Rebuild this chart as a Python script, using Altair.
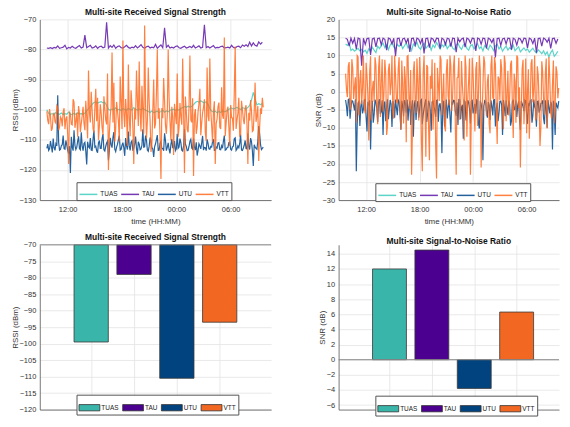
import altair as alt
import pandas as pd

SITES = ["TUAS", "TAU", "UTU", "VTT"]
LINE_COLORS = ["#40CDBF", "#5E17A8", "#00468C", "#FF6A1F"]
BAR_COLORS = ["#3AB5A9", "#4B0090", "#00437F", "#F26722"]
FONT = "Liberation Sans"

TIME_TICKS = ["12:00", "18:00", "00:00", "06:00"]
TIMES = pd.date_range("2021-01-01 09:42", periods=120, freq="12min")
TIMES_B = TIMES + pd.Timedelta(minutes=6)   # intermediate readings of the noisy series

# ---- RSSI (dBm) time series ----
TUAS_RSSI = [
    -100.0, -101.2, -101.5, -101.3, -101.6, -100.9, -101.4, -101.5, -101.1, -101.6,
    -101.3, -101.5, -100.8, -101.4, -101.6, -101.2, -101.5, -101.0, -101.4, -101.3,
    -101.5, -101.1, -100.4, -99.6, -98.9, -98.2, -97.6, -97.4, -97.8, -97.5,
    -97.3, -97.7, -97.5, -98.6, -99.8, -100.2, -99.7, -100.0, -99.4, -100.1,
    -99.8, -100.3, -99.6, -99.9, -100.2, -99.5, -99.9, -100.1, -99.3, -99.8,
    -100.2, -99.7, -100.0, -99.5, -99.9, -100.3, -100.6, -100.9, -100.4, -101.0,
    -100.7, -100.5, -100.9, -100.6, -100.2, -100.8, -100.4, -100.7, -100.1, -100.0,
    -99.8, -100.2, -99.9, -100.1, -99.6, -99.3, -99.0, -99.2, -98.8, -99.1,
    -98.9, -98.3, -97.6, -97.2, -97.5, -97.0, -97.4, -97.8, -97.3, -98.2,
    -99.6, -100.4, -100.8, -100.5, -101.0, -100.6, -100.9, -100.3, -100.7, -100.5,
    -100.1, -99.7, -99.4, -99.8, -99.5, -99.2, -99.6, -99.9, -99.3, -99.5,
    -99.8, -99.2, -98.6, -96.8, -94.2, -96.5, -98.4, -98.0, -98.3, -97.9,
]
TAU_RSSI = [
    -79.5, -79.6, -79.4, -79.7, -79.3, -79.5, -78.8, -79.6, -79.4, -79.2,
    -78.6, -79.8, -79.3, -79.5, -78.9, -79.4, -79.6, -79.1, -78.7, -79.5,
    -79.2, -75.2, -79.4, -79.0, -78.6, -79.5, -79.3, -78.8, -79.6, -79.1,
    -78.9, -79.4, -79.2, -71.0, -79.5, -78.7, -79.3, -78.5, -79.6, -79.0,
    -78.8, -79.4, -79.5, -79.1, -78.6, -79.3, -79.6, -79.2, -79.4, -78.7,
    -79.5, -79.0, -78.4, -79.3, -79.6, -79.1, -78.9, -79.5, -79.2, -79.4,
    -78.3, -79.6, -79.0, -78.5, -79.4, -72.8, -79.3, -78.6, -79.5, -79.2,
    -79.5, -79.0, -78.8, -79.4, -79.6, -79.2, -78.9, -79.5, -79.3, -79.0,
    -79.4, -78.6, -79.5, -79.2, -78.8, -79.5, -79.3, -71.8, -79.4, -79.0,
    -79.5, -79.1, -78.7, -79.5, -79.3, -79.4, -79.0, -78.9, -79.5, -79.4,
    -79.2, -79.5, -78.6, -79.3, -79.5, -79.0, -78.9, -79.4, -78.5, -78.9,
    -78.4, -79.0, -77.6, -78.8, -77.8, -78.6, -78.9, -77.5, -78.2, -77.6,
]
UTU_RSSI = [
    -112.8, -113.5, -110.4, -114.2, -112.6, -111.3, -95.2, -113.4, -112.0, -108.6,
    -113.1, -111.7, -114.6, -121.0, -112.4, -106.8, -113.2, -110.5, -112.9, -107.5,
    -113.6, -110.8, -118.2, -112.3, -109.4, -113.5, -106.9, -112.1, -114.3, -110.2,
    -112.8, -108.1, -113.7, -111.0, -116.8, -109.3, -112.6, -107.4, -113.9, -111.5,
    -108.6, -113.2, -110.9, -115.3, -112.0, -107.2, -113.5, -110.3, -112.7, -108.9,
    -114.8, -111.4, -113.0, -106.5, -112.3, -110.0, -113.8, -109.2, -112.6, -115.7,
    -111.3, -108.4, -113.4, -110.6, -112.9, -107.8, -113.6, -111.0, -114.5, -109.7,
    -112.8, -113.6, -108.0, -112.4, -110.9, -113.7, -106.4, -112.2, -113.5, -110.5,
    -112.7, -109.6, -113.4, -115.2, -111.3, -113.0, -108.7, -112.5, -113.6, -111.2,
    -113.1, -112.4, -109.8, -113.5, -112.7, -110.9, -113.3, -112.8, -108.6, -113.2,
    -112.5, -110.7, -113.4, -112.1, -109.3, -113.0, -112.6, -108.2, -113.5, -111.8,
    -112.9, -107.9, -113.2, -110.6, -118.7, -112.4, -113.1, -105.4, -111.6, -112.8,
]
UTU_RSSI_B = [
    -111.4, -113.0, -112.2, -109.6, -113.5, -112.0, -110.8, -113.2, -111.6, -112.9,
    -110.2, -113.4, -112.1, -109.0, -113.6, -111.8, -112.5, -108.8, -113.3, -112.0,
    -111.2, -113.8, -110.6, -112.7, -113.4, -109.8, -112.4, -113.6, -111.0, -112.8,
    -109.6, -113.3, -112.2, -110.4, -113.5, -111.6, -109.2, -113.1, -112.4, -110.0,
    -113.4, -111.8, -112.6, -109.4, -113.2, -112.0, -110.8, -113.6, -111.4, -112.9,
    -110.6, -113.3, -111.8, -112.4, -108.6, -113.4, -112.1, -110.5, -113.0, -112.3,
    -109.9, -113.5, -111.2, -112.8, -113.6, -110.2, -112.5, -113.2, -111.6, -112.6,
    -110.4, -113.0, -112.8, -109.6, -113.4, -112.0, -111.4, -113.6, -112.2, -109.8,
    -113.1, -112.4, -110.8, -113.5, -112.0, -111.0, -113.4, -112.6, -109.8, -113.0,
    -112.2, -110.6, -113.5, -112.4, -111.0, -113.2, -112.0, -110.4, -113.4, -112.6,
    -110.9, -113.1, -112.3, -109.6, -113.5, -112.0, -111.2, -113.4, -112.7, -110.2,
    -113.0, -112.2, -109.4, -113.6, -111.6, -112.8, -110.4, -108.0, -113.2, -112.4,
]
VTT_RSSI = [
    -100.5, -104.8, -102.3, -106.2, -101.0, -104.5, -99.2, -105.7, -103.0, -100.8,
    -106.5, -102.2, -118.0, -101.5, -105.0, -97.5, -103.8, -109.0, -101.2, -104.6,
    -99.0, -106.8, -102.5, -87.0, -104.2, -100.3, -107.6, -93.0, -96.0, -105.3,
    -101.2, -108.4, -99.6, -104.9, -120.0, -102.0, -81.0, -91.0, -106.5, -100.4,
    -110.5, -97.2, -77.0, -105.8, -101.6, -85.0, -108.8, -98.5, -118.0, -103.2,
    -96.8, -84.0, -107.2, -100.0, -72.0, -109.5, -86.0, -103.5, -111.0, -90.0,
    -104.6, -80.0, -99.5, -123.0, -102.8, -97.0, -108.0, -80.0, -104.0, -99.0,
    -115.0, -101.5, -88.0, -106.0, -102.4, -83.0, -121.0, -100.5, -107.5, -82.0,
    -104.2, -122.0, -99.8, -105.6, -98.0, -108.5, -101.0, -96.5, -110.4, -102.0,
    -83.0, -105.2, -100.6, -118.0, -103.0, -97.6, -106.4, -101.8, -76.0, -104.5,
    -99.0, -112.0, -102.6, -107.0, -79.0, -103.4, -96.0, -108.2, -100.0, -104.8,
    -98.5, -118.0, -103.6, -100.2, -106.8, -91.0, -102.0, -117.0, -99.5, -96.0,
]
VTT_RSSI_B = [
    -103.5, -99.8, -107.0, -101.8, -104.0, -98.6, -106.8, -102.4, -105.5, -99.5,
    -103.0, -108.2, -100.6, -104.8, -96.5, -106.0, -101.0, -98.8, -107.4, -102.0,
    -104.5, -97.0, -109.5, -101.0, -94.0, -106.2, -99.5, -103.8, -110.0, -98.2,
    -106.0, -95.5, -103.4, -88.0, -107.8, -99.0, -104.2, -110.6, -97.4, -103.6,
    -89.0, -106.4, -100.8, -96.4, -112.0, -102.2, -93.5, -106.0, -99.6, -87.0,
    -105.4, -101.4, -92.0, -108.0, -98.2, -103.8, -97.5, -114.0, -100.4, -106.2,
    -94.5, -103.0, -108.6, -99.4, -89.5, -105.2, -101.6, -96.0, -110.2, -102.6,
    -98.0, -104.8, -109.0, -97.8, -105.0, -100.2, -95.6, -106.6, -99.0, -103.4,
    -96.2, -101.8, -108.0, -100.6, -93.0, -104.4, -99.2, -107.6, -86.0, -103.8,
    -100.0, -110.8, -97.2, -104.6, -99.0, -105.8, -92.5, -103.0, -108.8, -100.2,
    -105.6, -98.4, -102.8, -94.2, -106.4, -101.2, -108.6, -97.0, -103.2, -99.6,
    -104.4, -101.0, -96.8, -107.2, -100.4, -104.0, -98.8, -105.6, -101.4, -99.2,
]

# ---- SNR (dB) time series ----
TUAS_SNR = [
    13.2, 12.8, 13.5, 11.4, 11.8, 11.2, 11.6, 12.0, 11.3, 11.7,
    11.0, 11.5, 10.6, 11.9, 11.2, 12.3, 11.5, 10.8, 12.6, 11.9,
    12.8, 13.4, 12.2, 13.0, 11.6, 12.9, 13.6, 12.4, 11.8, 13.1,
    12.5, 13.3, 11.9, 12.7, 13.5, 12.1, 12.9, 11.4, 13.2, 12.6,
    13.7, 12.3, 11.7, 12.8, 13.4, 12.0, 12.6, 13.1, 11.5, 12.9,
    12.2, 13.6, 12.7, 11.8, 13.0, 12.4, 13.5, 11.9, 12.6, 13.3,
    12.1, 11.6, 12.8, 13.4, 12.3, 11.7, 12.9, 13.2, 12.0, 11.5,
    12.7, 13.0, 11.8, 12.5, 13.3, 11.9, 12.4, 11.3, 12.8, 12.2,
    11.6, 12.9, 12.3, 11.4, 12.7, 13.1, 11.8, 12.5, 11.2, 12.0,
    12.6, 11.5, 12.2, 11.7, 12.9, 11.3, 11.9, 12.4, 11.0, 11.6,
    12.1, 11.4, 11.8, 10.9, 11.5, 12.0, 11.2, 10.7, 11.6, 11.1,
    10.5, 11.3, 10.2, 11.0, 9.6, 10.8, 11.5, 9.8, 10.4, 11.2,
]
TAU_SNR = [
    14.8, 14.5, 12.6, 14.8, 13.4, 14.7, 11.8, 14.8, 14.6, 7.2,
    14.8, 13.1, 14.7, 14.8, 10.2, 14.6, 14.8, 12.4, 14.7, 14.8,
    13.0, 14.8, 14.5, 11.5, 14.8, 14.6, 13.2, 14.8, 9.8, 14.7,
    14.8, 12.7, 14.6, 14.8, 13.5, 14.8, 11.0, 14.7, 14.8, 12.9,
    14.8, 14.5, 13.3, 14.8, 10.6, 14.7, 14.8, 12.2, 14.8, 14.6,
    13.6, 14.8, 14.7, 11.9, 14.8, 14.5, 13.0, 14.8, 14.6, 12.5,
    14.8, 14.7, 10.9, 14.8, 13.8, 14.6, 14.8, 12.3, 14.8, 14.5,
    13.4, 14.8, 14.7, 11.3, 14.8, 14.6, 13.1, 14.8, 14.7, 12.0,
    14.8, 14.5, 13.6, 14.8, 9.5, 14.7, 14.8, 12.8, 14.6, 14.8,
    13.2, 14.8, 14.7, 11.6, 14.8, 14.5, 12.9, 14.8, 14.6, 13.5,
    14.8, 14.7, 12.1, 14.8, 14.5, 13.3, 14.8, 10.8, 14.7, 14.8,
    12.6, 14.8, 14.5, 13.7, 14.8, 12.0, 14.7, 14.8, 13.4, 14.6,
]
UTU_SNR = [
    -2.3, -6.8, -2.0, -4.5, -2.6, -5.2, -22.0, -3.1, -9.5, -2.4,
    -4.8, -2.2, -11.0, -3.6, -16.0, -2.5, -6.2, -3.0, -8.4, -2.1,
    -5.5, -12.0, -2.7, -4.1, -7.6, -2.3, -9.8, -3.5, -2.2, -6.5,
    -2.8, -10.5, -3.9, -2.4, -5.8, -8.0, -2.6, -4.4, -12.5, -2.3,
    -3.7, -7.2, -2.5, -9.0, -4.6, -2.1, -6.0, -3.3, -10.8, -2.6,
    -5.1, -2.4, -8.3, -3.2, -17.0, -2.7, -4.9, -7.4, -2.2, -11.3,
    -3.6, -2.5, -6.7, -9.2, -2.3, -4.3, -13.0, -2.8, -5.6, -3.0,
    -8.8, -2.4, -4.7, -6.1, -2.6, -10.2, -3.4, -19.0, -2.5, -5.3,
    -2.9, -7.8, -4.0, -2.3, -9.6, -3.1, -5.9, -2.6, -12.0, -4.2,
    -2.4, -6.4, -3.5, -8.1, -2.2, -4.8, -7.0, -2.7, -10.6, -3.3,
    -5.4, -2.5, -8.9, -3.8, -2.3, -6.6, -4.1, -9.7, -2.6, -5.0,
    -3.2, -7.5, -2.4, -10.0, -4.4, -2.8, -16.0, -6.3, -3.0, -4.5,
]
UTU_SNR_B = [
    -4.0, -2.2, -7.5, -2.5, -3.8, -2.1, -9.0, -2.7, -4.2, -6.0,
    -2.3, -7.0, -3.2, -2.4, -5.6, -8.6, -2.2, -4.6, -2.8, -6.2,
    -2.4, -3.8, -8.2, -2.1, -5.0, -3.4, -2.6, -7.2, -4.4, -2.3,
    -5.9, -2.5, -6.8, -3.0, -2.2, -4.2, -9.2, -2.4, -3.6, -7.8,
    -2.6, -4.8, -2.2, -6.4, -3.2, -8.4, -2.5, -5.2, -2.8, -4.0,
    -7.0, -2.3, -3.8, -5.8, -2.6, -9.6, -2.2, -4.4, -6.6, -2.7,
    -2.4, -5.4, -3.0, -2.2, -7.6, -3.6, -2.5, -8.0, -2.4, -4.8,
    -2.6, -6.0, -3.4, -2.3, -8.8, -2.5, -5.2, -4.0, -2.8, -7.2,
    -3.8, -2.4, -6.6, -2.2, -4.6, -8.2, -2.7, -3.6, -2.3, -6.8,
    -4.4, -2.5, -9.4, -2.8, -5.0, -2.4, -3.8, -7.4, -2.6, -4.2,
    -2.3, -6.2, -3.4, -2.5, -8.6, -2.2, -4.8, -2.7, -5.8, -3.2,
    -2.4, -9.0, -4.6, -2.3, -6.0, -3.6, -2.5, -12.0, -4.0, -2.6,
]
VTT_SNR = [
    5.0, -1.5, 8.2, -4.0, 6.5, 1.2, -8.5, 9.6, 3.0, -3.5,
    10.0, -6.0, 4.2, -13.5, 9.8, 0.5, -2.8, 7.4, -9.0, 10.0,
    2.6, -5.5, 8.8, -12.0, 6.0, -1.0, 10.0, -7.5, 4.5, -3.2,
    9.5, -10.5, 1.8, 7.0, -14.0, 10.0, -4.8, -23.0, 5.5, -2.0,
    9.2, -8.0, 3.4, -22.0, 10.0, -18.0, 6.8, -19.0, 0.8, -10.5,
    8.0, -24.0, 2.2, 10.0, -6.5, 5.0, -11.0, 9.0, -3.8, 7.2,
    -1.5, 10.0, -23.0, 4.0, -7.8, 8.5, -2.5, 10.0, -12.5, 3.2,
    -23.0, 9.4, -4.2, 6.2, -9.5, 10.0, -21.0, 1.5, 8.0, -6.8,
    4.8, -11.5, 10.0, -2.2, 7.6, -14.5, 3.6, 9.0, -5.0, 10.0,
    -8.2, 5.8, -1.2, 8.6, -12.8, 2.8, 10.0, -4.5, -21.0, 6.4,
    -9.0, 9.2, 0.2, -13.0, 7.8, -3.0, 10.0, -7.2, 4.6, -15.0,
    8.4, -2.4, 5.2, -10.2, 9.6, -5.8, 2.0, -8.8, 7.0, -1.8,
]
VTT_SNR_B = [
    0.5, 7.0, -5.0, 9.0, -2.0, 4.0, 10.0, -6.5, 6.0, 1.0,
    -4.5, 8.0, -1.0, 5.5, -8.0, 3.0, 9.5, -3.5, 6.6, -7.0,
    9.0, -0.5, 4.8, -9.5, 7.8, 2.0, -5.8, 10.0, -2.5, 6.2,
    -4.0, 8.6, -8.8, 3.6, 9.8, -1.8, 6.0, -10.0, 8.4, -6.0,
    2.4, 9.6, -13.0, 5.2, -3.0, 7.4, -9.2, 4.4, 9.0, -4.2,
    -15.0, 6.6, -2.6, 8.8, -0.8, -9.6, 5.6, -1.0, 10.0, -5.4,
    7.0, -8.4, 3.8, 9.4, -4.6, 1.6, -13.5, 6.8, -2.0, 9.2,
    -6.2, 4.6, -11.0, 8.2, -0.4, 5.8, -7.6, 9.8, -3.0, 2.8,
    -9.0, 7.2, -1.6, 9.6, -5.2, 4.2, -2.4, 6.4, -10.4, 8.0,
    -0.8, -6.6, 7.6, -3.6, 5.0, -8.6, 9.4, 1.2, -5.6, 8.8,
    -2.2, -11.5, 6.2, -4.4, 9.0, 0.6, -8.0, 7.0, -3.4, -9.8,
    5.6, -6.4, 9.2, -1.4, 3.6, -7.4, 8.6, -4.0, 5.4, 1.0,
]

# ---- mean values (bars) ----
RSSI_MEAN = [-99.5, -79.0, -110.5, -93.5]
SNR_MEAN = [12.0, 14.5, -3.8, 6.3]


def long_frame(series_list):
    rows = []
    for site, parts in zip(SITES, series_list):
        for times, vals in parts:
            assert len(vals) == len(times), (site, len(vals))
            for t, v in zip(times, vals):
                rows.append({"time": t, "site": site, "value": v})
    return pd.DataFrame(rows)


rssi_df = long_frame([
    [(TIMES, TUAS_RSSI)],
    [(TIMES, TAU_RSSI)],
    [(TIMES, UTU_RSSI), (TIMES_B, UTU_RSSI_B)],
    [(TIMES, VTT_RSSI), (TIMES_B, VTT_RSSI_B)],
])
snr_df = long_frame([
    [(TIMES, TUAS_SNR)],
    [(TIMES, TAU_SNR)],
    [(TIMES, UTU_SNR), (TIMES_B, UTU_SNR_B)],
    [(TIMES, VTT_SNR), (TIMES_B, VTT_SNR_B)],
])

rssi_bar_df = pd.DataFrame({"site": SITES, "pos": [i + 1 for i in range(len(SITES))], "value": RSSI_MEAN})
snr_bar_df = pd.DataFrame({"site": SITES, "pos": [i + 1 for i in range(len(SITES))], "value": SNR_MEAN})


def dt(day, h, m=0):
    return alt.DateTime(year=2021, month=1, date=day, hours=h, minutes=m)


TICK_DT = [dt(1, 12), dt(1, 18), dt(2, 0), dt(2, 6)]
LEFT_W = 233
RIGHT_W = 222
TOP_H = 182
BOTTOM_H = 166


def line_legend(lx, ly):
    return alt.Legend(title=None, orient="none", legendX=lx, legendY=ly,
                      direction="horizontal", symbolType="stroke",
                      symbolSize=324, symbolStrokeWidth=1.5,
                      labelFontSize=6.5, labelOffset=2, columnPadding=0,
                      padding=2, strokeColor="#555", fillColor="white")


def line_panel(df, title, ytitle, ydomain, yvalues, width, end_dt, lx, ly):
    return alt.Chart(df, title=title).mark_line(strokeWidth=1.2, opacity=0.85).encode(
        x=alt.X("time:T",
                scale=alt.Scale(domain=[dt(1, 8, 55), end_dt]),
                axis=alt.Axis(values=TICK_DT, format="%H:%M", title="time (HH:MM)",
                              labelPadding=5, titlePadding=5)),
        y=alt.Y("value:Q", scale=alt.Scale(domain=ydomain, nice=False, zero=False),
                axis=alt.Axis(values=yvalues, title=ytitle, labelOverlap=False)),
        color=alt.Color("site:N", sort=SITES,
                        scale=alt.Scale(domain=SITES, range=LINE_COLORS),
                        legend=line_legend(lx, ly)),
    ).properties(width=width, height=TOP_H)


BAR_SYMBOL = "M-1,-0.3L1,-0.3L1,0.3L-1,0.3Z"


def bar_panel(df, title, ytitle, ydomain, yvalues, base, width, xmax, lx, ly):
    yscale = alt.Scale(domain=ydomain, nice=False, zero=False)
    yaxis = alt.Axis(values=yvalues, title=ytitle, labelOverlap=False)
    bars = alt.Chart(df).transform_calculate(
        x0="datum.pos - 0.4", x1="datum.pos + 0.4"
    ).mark_bar(stroke="#3a3a3a", strokeWidth=0.8).encode(
        x=alt.X("x0:Q", scale=alt.Scale(domain=[-0.2, xmax], nice=False, zero=False),
                axis=alt.Axis(values=[1, 2, 3, 4], labels=False, title=None, grid=True)),
        x2="x1:Q",
        y=alt.Y("value:Q", scale=yscale, axis=yaxis),
        y2=alt.datum(base),
        color=alt.Color("site:N", sort=SITES,
                        scale=alt.Scale(domain=SITES, range=BAR_COLORS),
                        legend=alt.Legend(title=None, orient="none", legendX=lx, legendY=ly,
                                          direction="horizontal", symbolType=BAR_SYMBOL,
                                          symbolSize=441, symbolStrokeColor="#333",
                                          symbolStrokeWidth=0.8, symbolOpacity=1,
                                          labelFontSize=6.5, labelOffset=1, columnPadding=1,
                                          padding=2, strokeColor="#555", fillColor="white")),
    )
    baseline = alt.Chart(pd.DataFrame({"b": [base]})).mark_rule(
        color="#8a8a8a", strokeWidth=1).encode(y=alt.Y("b:Q", scale=yscale, axis=yaxis))
    return alt.layer(bars, baseline, title=title).properties(width=width, height=BOTTOM_H)


tl = line_panel(rssi_df, "Multi-site Received Signal Strength", "RSSI (dBm)",
                [-130, -70], list(range(-130, -69, 10)), LEFT_W, dt(2, 10, 28), 37, 164)
tr = line_panel(snr_df, "Multi-site Signal-to-Noise Ratio", "SNR (dB)",
                [-30, 20], list(range(-30, 21, 5)), RIGHT_W, dt(2, 9, 38), 37, 165)
bl = bar_panel(rssi_bar_df, "Multi-site Received Signal Strength", "RSSI (dBm)",
               [-120, -70], list(range(-120, -69, 5)), -70, LEFT_W, 5.2, 37, 151)
br = bar_panel(snr_bar_df, "Multi-site Signal-to-Noise Ratio", "SNR (dB)",
               [-6.6, 15.2], list(range(-6, 15, 2)), 0, RIGHT_W, 5.0, 37, 152)

chart = alt.concat(tl, tr, bl, br, columns=2, bounds="flush",
                   spacing={"row": 45, "column": 68}).resolve_scale(
    color="independent").resolve_legend(color="independent").properties(
    padding={"left": 2, "top": -2, "right": 0, "bottom": 0}
).configure(font=FONT).configure_view(stroke="transparent").configure_axis(
    labelFont=FONT, labelFontSize=7.5, labelColor="#333", titleFont=FONT,
    titleFontSize=8, titleFontWeight="normal", titleColor="#333",
    domainColor="#555", domainWidth=0.8, gridColor="#E3E3E3", gridWidth=0.8,
    ticks=False, labelPadding=4, titlePadding=0,
).configure_title(font=FONT, fontSize=8.5, fontWeight="bold", color="#111", offset=0, dy=5
).configure_legend(labelFont=FONT, labelColor="#222")

chart.save("out.html", embed_options={"renderer": "svg", "actions": False})
